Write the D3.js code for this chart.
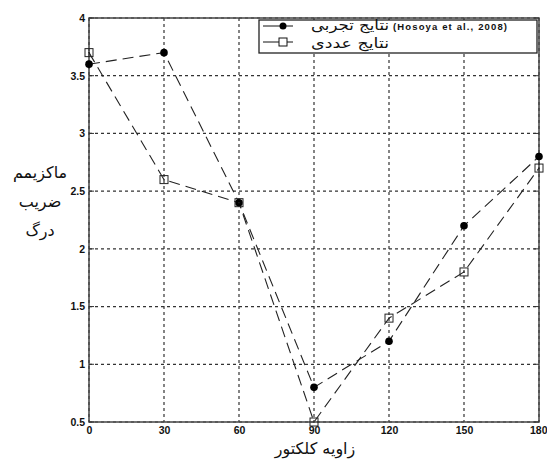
<!DOCTYPE html>
<html><head><meta charset="utf-8">
<script src="https://cdn.jsdelivr.net/npm/d3@7"></script>
<style>body{margin:0;background:#fff}svg{display:block}</style>
</head><body>
<svg id="c" width="547" height="460"></svg>
<script>
const angles = [0, 30, 60, 90, 120, 150, 180];
const experimental = [3.6, 3.7, 2.4, 0.8, 1.2, 2.2, 2.8];
const numerical = [3.7, 2.6, 2.4, 0.5, 1.4, 1.8, 2.7];
const xTicks = [0, 30, 60, 90, 120, 150, 180];
const yTicks = [0.5, 1, 1.5, 2, 2.5, 3, 3.5, 4];
const legendLabels = ["نتایج تجربی", "نتایج عددی"];
const legendRef = "(Hosoya et al., 2008)";
const xLabel = "زاویه کلکتور";
const yLabelLines = ["ماکزیمم", "ضریب", "درگ"];

const svg = d3.select("#c");
const L = 89, R = 539, T = 18, B = 422;
const x = d3.scaleLinear().domain([0, 180]).range([L, R]);
const y = d3.scaleLinear().domain([0.5, 4]).range([B, T]);

// grid
const g = svg.append("g");
g.selectAll(".gx").data(xTicks).enter().append("line")
  .attr("x1", d => x(d)).attr("x2", d => x(d)).attr("y1", T).attr("y2", B)
  .attr("stroke", "#333").attr("stroke-width", 1.2).attr("stroke-dasharray", "3,3");
g.selectAll(".gy").data(yTicks).enter().append("line")
  .attr("x1", L).attr("x2", R).attr("y1", d => y(d)).attr("y2", d => y(d))
  .attr("stroke", "#333").attr("stroke-width", 1.2).attr("stroke-dasharray", "3,3");

// box
svg.append("rect").attr("x", L).attr("y", T).attr("width", R - L).attr("height", B - T)
  .attr("fill", "none").attr("stroke", "#444").attr("stroke-width", 1.5);

// axes
const ax = svg.append("g").attr("transform", `translate(0,${B})`)
  .call(d3.axisBottom(x).tickValues(xTicks).tickSize(0).tickPadding(5));
const ay = svg.append("g").attr("transform", `translate(${L},0)`)
  .call(d3.axisLeft(y).tickValues(yTicks).tickSize(0).tickPadding(4).tickFormat(d3.format("")));
[ax, ay].forEach(a => {
  a.select(".domain").remove();
  a.selectAll("text").attr("font-family", "Liberation Sans, Arial, sans-serif")
    .attr("font-weight", "bold").attr("font-size", 10.5).attr("fill", "#111");
});
ax.selectAll(".tick").filter(d => d === 180).select("text").attr("text-anchor", "end").attr("x", 8);
// small inner ticks on right and left
svg.selectAll(".rt").data(yTicks).enter().append("line")
  .attr("x1", R - 5).attr("x2", R).attr("y1", d => y(d)).attr("y2", d => y(d))
  .attr("stroke", "#333");
svg.selectAll(".lt").data(yTicks).enter().append("line")
  .attr("x1", L).attr("x2", L + 5).attr("y1", d => y(d)).attr("y2", d => y(d))
  .attr("stroke", "#333");

const line = d3.line().x((d, i) => x(angles[i])).y(d => y(d));
svg.append("path").datum(experimental).attr("d", line).attr("fill", "none")
  .attr("stroke", "#222").attr("stroke-width", 1.1).attr("stroke-dasharray", "11,6");
svg.append("path").datum(numerical).attr("d", line).attr("fill", "none")
  .attr("stroke", "#222").attr("stroke-width", 1.1).attr("stroke-dasharray", "11,6");

svg.selectAll(".ci").data(experimental).enter().append("circle")
  .attr("cx", (d, i) => x(angles[i])).attr("cy", d => y(d)).attr("r", 3.8).attr("fill", "#000");
const sq = svg.selectAll(".sq").data(numerical).enter().append("g")
  .attr("transform", (d, i) => `translate(${x(angles[i])},${y(d)})`);
sq.append("rect").attr("x", -4).attr("y", -4).attr("width", 8).attr("height", 8)
  .attr("fill", "none").attr("stroke", "#222").attr("stroke-width", 1);
sq.append("circle").attr("r", 0.8).attr("fill", "#222");

// legend
const lg = svg.append("g");
lg.append("rect").attr("x", 259).attr("y", 20).attr("width", 278).attr("height", 33)
  .attr("fill", "#fff").attr("stroke", "#222").attr("stroke-width", 1.3);
const rows = [26, 42];
const baselines = [30, 48];
rows.forEach((ry, i) => {
  lg.append("line").attr("x1", 263).attr("x2", 293).attr("y1", ry).attr("y2", ry).attr("stroke", "#111");
  if (i === 0) lg.append("circle").attr("cx", 283).attr("cy", ry).attr("r", 3.5).attr("fill", "#000");
  else {
    lg.append("rect").attr("x", 279).attr("y", ry - 4).attr("width", 8).attr("height", 8)
      .attr("fill", "#fff").attr("stroke", "#111");
  }
  lg.append("text").attr("x", 311).attr("y", baselines[i]).attr("font-family", "DejaVu Sans, Noto Sans, sans-serif")
    .attr("font-size", 14).attr("fill", "#111").attr("direction", "ltr")
    .attr("textLength", 78).attr("lengthAdjust", "spacingAndGlyphs").text(legendLabels[i]);
});
lg.append("text").attr("x", 393).attr("y", 30).attr("font-family", "Liberation Sans, Arial, sans-serif")
  .attr("font-weight", "bold").attr("font-size", 9.5).attr("fill", "#111")
  .attr("textLength", 114).attr("lengthAdjust", "spacing").text(legendRef);

// axis labels
svg.append("text").attr("x", 315).attr("y", 454).attr("text-anchor", "middle")
  .attr("font-family", "DejaVu Sans, Noto Sans, sans-serif").attr("font-size", 16).attr("fill", "#111").text(xLabel);
yLabelLines.forEach((t, i) => {
  svg.append("text").attr("x", 40).attr("y", 178 + i * 29).attr("text-anchor", "middle")
    .attr("font-family", "DejaVu Sans, Noto Sans, sans-serif").attr("font-size", 16).attr("fill", "#111").text(t);
});
</script>
</body></html>
